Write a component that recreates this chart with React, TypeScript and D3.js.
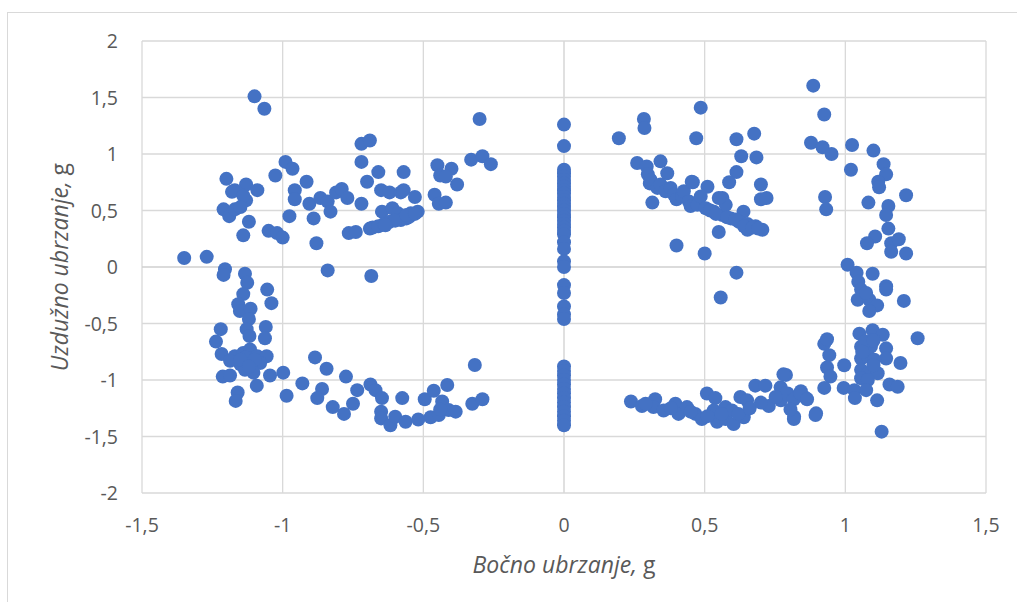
import * as React from "react";
import * as d3 from "d3";

// bočno (x) / uzdužno (y) ubrzanje, g
const upperLeft = [
  [-1.1, 1.51], [-1.065, 1.4], [-1.2, 0.78], [-1.13, 0.73], [-1.17, 0.68], [-1.18, 0.665],
  [-1.09, 0.68], [-1.13, 0.59], [-1.14, 0.63], [-1.21, 0.51], [-1.19, 0.45], [-1.17, 0.51],
  [-1.15, 0.53], [-1.12, 0.4], [-1.14, 0.28], [-1.05, 0.32], [-1.02, 0.3], [-1.0, 0.26],
  [-0.99, 0.93], [-0.965, 0.87], [-1.026, 0.81], [-0.976, 0.45], [-0.957, 0.68], [-0.957, 0.6],
  [-0.915, 0.755], [-0.905, 0.56], [-0.89, 0.43], [-0.866, 0.61], [-0.84, 0.58], [-0.83, 0.49],
  [-0.81, 0.66], [-0.79, 0.69], [-0.77, 0.61], [-0.88, 0.21], [-0.765, 0.3], [-0.74, 0.31],
  [-0.72, 1.09], [-0.69, 1.12], [-0.72, 0.93], [-0.7, 0.755], [-0.72, 0.56], [-0.66, 0.84],
  [-0.65, 0.68], [-0.62, 0.66], [-0.58, 0.66], [-0.57, 0.84], [-0.57, 0.68], [-0.53, 0.62],
  [-0.52, 0.49], [-0.69, 0.34], [-0.68, 0.35], [-0.66, 0.36], [-0.647, 0.49], [-0.62, 0.4],
  [-0.61, 0.52], [-0.59, 0.475], [-0.58, 0.415], [-0.56, 0.43], [-0.55, 0.445], [-0.545, 0.475],
  [-0.6, 0.41], [-0.64, 0.38], [-0.635, 0.37], [-0.56, 0.46], [-0.53, 0.47], [-0.45, 0.9],
  [-0.4, 0.87], [-0.44, 0.81], [-0.42, 0.8], [-0.38, 0.73], [-0.46, 0.64], [-0.445, 0.56],
  [-0.42, 0.57], [-0.33, 0.95], [-0.29, 0.98], [-0.26, 0.91], [-0.3, 1.31],
];

const lowerLeft = [
  [-1.35, 0.08], [-1.27, 0.09], [-1.205, -0.02], [-1.21, -0.07], [-1.134, -0.06], [-1.126, -0.14],
  [-1.14, -0.24], [-1.055, -0.2], [-1.04, -0.32], [-1.158, -0.33], [-1.152, -0.39], [-1.114, -0.37],
  [-1.12, -0.46], [-1.22, -0.55], [-1.128, -0.55], [-1.118, -0.61], [-1.06, -0.53], [-1.063, -0.63],
  [-1.237, -0.66], [-1.217, -0.77], [-1.17, -0.79], [-1.14, -0.76], [-1.116, -0.73], [-1.09, -0.79],
  [-1.057, -0.79], [-1.15, -0.86], [-1.12, -0.85], [-1.08, -0.85], [-1.134, -0.91], [-1.104, -0.935],
  [-1.187, -0.83], [-1.13, -0.8], [-1.1, -0.82], [-1.15, -0.82], [-1.12, -0.88], [-1.213, -0.97],
  [-1.187, -0.96], [-1.045, -0.96], [-0.998, -0.935], [-1.092, -1.05], [-1.16, -1.11], [-1.167, -1.185],
  [-0.986, -1.14], [-0.93, -1.03], [-0.885, -0.8], [-0.844, -0.9], [-0.775, -0.97], [-0.86, -1.08],
  [-0.877, -1.16], [-0.822, -1.24], [-0.782, -1.3], [-0.735, -1.09], [-0.75, -1.21], [-0.688, -1.04],
  [-0.67, -1.09], [-0.647, -1.16], [-0.65, -1.28], [-0.65, -1.34], [-0.617, -1.4], [-0.6, -1.325],
  [-0.563, -1.37], [-0.575, -1.16], [-0.518, -1.35], [-0.495, -1.17], [-0.463, -1.095], [-0.474, -1.33],
  [-0.445, -1.31], [-0.415, -1.044], [-0.433, -1.19], [-0.41, -1.265], [-0.385, -1.28], [-0.44, -1.26],
  [-0.317, -0.867], [-0.326, -1.21], [-0.29, -1.17], [-0.84, -0.03], [-0.685, -0.08],
];

const centerY = [
  1.26, 1.07, 0.86, 0.83, 0.8, 0.77, 0.74, 0.71, 0.68, 0.65, 0.62, 0.59, 0.56, 0.53, 0.5, 0.47,
  0.44, 0.41, 0.38, 0.35, 0.32, 0.29, 0.22, 0.16, 0.05, 0.0, -0.16, -0.23, -0.35, -0.42, -0.46,
  -0.88, -0.92, -0.96, -1.0, -1.04, -1.08, -1.12, -1.16, -1.2, -1.24, -1.28, -1.32, -1.36, -1.4,
];

const upperRight = [
  [0.486, 1.41], [0.284, 1.31], [0.286, 1.23], [0.195, 1.14], [0.47, 1.14], [0.613, 1.13],
  [0.676, 1.18], [0.63, 0.98], [0.684, 0.97], [0.26, 0.92], [0.294, 0.89], [0.343, 0.935],
  [0.367, 0.83], [0.298, 0.82], [0.305, 0.74], [0.314, 0.57], [0.458, 0.75], [0.51, 0.71],
  [0.613, 0.84], [0.587, 0.75], [0.7, 0.73], [0.7, 0.6], [0.72, 0.61], [0.638, 0.49],
  [0.55, 0.31], [0.4, 0.19], [0.5, 0.12], [0.613, -0.05], [0.557, -0.27], [0.308, 0.77],
  [0.332, 0.7], [0.343, 0.73], [0.361, 0.67], [0.379, 0.7], [0.391, 0.64], [0.4, 0.6],
  [0.42, 0.625], [0.426, 0.67], [0.444, 0.58], [0.45, 0.54], [0.474, 0.55], [0.486, 0.625],
  [0.504, 0.52], [0.533, 0.49], [0.563, 0.46], [0.563, 0.61], [0.575, 0.55], [0.593, 0.43],
  [0.622, 0.4], [0.652, 0.38], [0.652, 0.33], [0.681, 0.36], [0.705, 0.33], [0.454, 0.755],
  [0.55, 0.61], [0.52, 0.5], [0.54, 0.47], [0.58, 0.44], [0.61, 0.42], [0.64, 0.36],
  [0.67, 0.35], [0.69, 0.34],
];

const farRight = [
  [0.886, 1.605], [0.925, 1.35], [0.878, 1.1], [0.919, 1.06], [0.951, 1.0], [1.024, 1.08],
  [1.1, 1.03], [1.02, 0.86], [1.136, 0.91], [1.145, 0.82], [1.117, 0.755], [1.12, 0.705],
  [0.928, 0.62], [0.932, 0.51], [1.082, 0.57], [1.216, 0.635], [1.153, 0.54], [1.145, 0.46],
  [1.153, 0.34], [1.106, 0.27], [1.077, 0.21], [1.163, 0.21], [1.19, 0.245], [1.163, 0.135],
  [1.216, 0.12], [1.008, 0.02], [1.04, -0.05], [1.046, -0.13], [1.056, -0.2], [1.097, -0.06],
  [1.145, -0.17], [1.145, -0.2], [1.044, -0.29], [1.085, -0.29], [1.113, -0.34], [1.085, -0.39],
  [1.208, -0.3], [1.074, -0.23],
];

const lowerRight = [
  [1.05, -0.59], [1.097, -0.56], [1.133, -0.6], [1.257, -0.63], [0.925, -0.68], [0.935, -0.64],
  [0.943, -0.78], [1.056, -0.705], [1.091, -0.705], [1.145, -0.72], [1.145, -0.81], [1.056, -0.81],
  [1.08, -0.79], [1.103, -0.82], [1.196, -0.85], [0.996, -0.87], [0.935, -0.89], [0.947, -0.97],
  [1.056, -0.91], [1.08, -0.94], [1.115, -0.94], [1.056, -0.985], [1.08, -1.0], [0.925, -1.07],
  [0.994, -1.07], [1.032, -1.09], [1.074, -1.09], [1.034, -1.16], [1.113, -1.18], [1.157, -1.04],
  [1.186, -1.06], [1.129, -1.457], [1.07, -0.66], [1.1, -0.65], [1.06, -0.75], [1.1, -0.87],
  [0.789, -0.955], [0.795, -1.12], [0.842, -1.1], [0.86, -1.16], [0.818, -1.325], [0.896, -1.295],
  [0.771, -1.18], [0.238, -1.19], [0.277, -1.23], [0.324, -1.17], [0.318, -1.24], [0.354, -1.27],
  [0.396, -1.21], [0.407, -1.3], [0.437, -1.24], [0.467, -1.3], [0.49, -1.345], [0.508, -1.12],
  [0.538, -1.16], [0.532, -1.27], [0.544, -1.37], [0.574, -1.24], [0.574, -1.345], [0.603, -1.39],
  [0.597, -1.27], [0.627, -1.15], [0.639, -1.33], [0.651, -1.18], [0.68, -1.05], [0.716, -1.05],
  [0.78, -0.95], [0.77, -1.065], [0.787, -1.12], [0.728, -1.23], [0.752, -1.15], [0.817, -1.17],
  [0.84, -1.12], [0.864, -1.17], [0.817, -1.345], [0.894, -1.31], [0.805, -1.26], [0.29, -1.21],
  [0.38, -1.25], [0.45, -1.28], [0.51, -1.32], [0.56, -1.3], [0.62, -1.3], [0.66, -1.25],
  [0.7, -1.2],
];

const xTicks = [-1.5, -1, -0.5, 0, 0.5, 1, 1.5];
const yTicks = [-2, -1.5, -1, -0.5, 0, 0.5, 1, 1.5, 2];

const fmt = (v: number) => String(v).replace(".", ",");

const ScatterChart = () => {
  const svgRef = React.useRef<SVGSVGElement>(null);

  React.useEffect(() => {
    const width = 1017;
    const height = 602;
    const font = "'Open Sans', 'Noto Sans', sans-serif";

    const svg = d3.select(svgRef.current).attr("width", width).attr("height", height);
    svg.selectAll("*").remove();

    // chart frame
    svg
      .append("rect")
      .attr("x", 7.5)
      .attr("y", 12.5)
      .attr("width", 1030)
      .attr("height", 620)
      .attr("fill", "#fff")
      .attr("stroke", "#d9d9d9");

    const x = d3.scaleLinear().domain([-1.5, 1.5]).range([142, 986]);
    const y = d3.scaleLinear().domain([-2, 2]).range([493, 41]);

    const grid = svg.append("g").attr("stroke-width", 1.3);
    grid
      .selectAll("line.v")
      .data(xTicks)
      .enter()
      .append("line")
      .attr("x1", (d) => x(d))
      .attr("x2", (d) => x(d))
      .attr("y1", y(2))
      .attr("y2", y(-2))
      .attr("stroke", (d) => (d === 0 ? "#cfcfcf" : "#d9d9d9"));
    grid
      .selectAll("line.h")
      .data(yTicks)
      .enter()
      .append("line")
      .attr("x1", x(-1.5))
      .attr("x2", x(1.5))
      .attr("y1", (d) => y(d))
      .attr("y2", (d) => y(d))
      .attr("stroke", (d) => (d === 0 ? "#cfcfcf" : "#d9d9d9"));

    svg
      .append("g")
      .selectAll("text")
      .data(xTicks)
      .enter()
      .append("text")
      .attr("x", (d) => x(d))
      .attr("y", 532)
      .attr("text-anchor", "middle")
      .attr("font-family", font)
      .attr("font-size", "19.5px")
      .attr("fill", "#595959")
      .text((d) => fmt(d));

    svg
      .append("g")
      .selectAll("text")
      .data(yTicks)
      .enter()
      .append("text")
      .attr("x", 118)
      .attr("y", (d) => y(d) + 7)
      .attr("text-anchor", "end")
      .attr("font-family", font)
      .attr("font-size", "19.5px")
      .attr("fill", "#595959")
      .text((d) => fmt(d));

    // axis titles
    const xt = svg
      .append("text")
      .attr("x", 564)
      .attr("y", 573)
      .attr("text-anchor", "middle")
      .attr("font-family", font)
      .attr("font-size", "23px")
      .attr("fill", "#595959");
    xt.append("tspan").attr("font-style", "italic").text("Bočno ubrzanje, ");
    xt.append("tspan").text("g");

    const yt = svg
      .append("text")
      .attr("transform", `translate(68 ${y(0)}) rotate(-90)`)
      .attr("text-anchor", "middle")
      .attr("font-family", font)
      .attr("font-size", "23px")
      .attr("fill", "#595959");
    yt.append("tspan").attr("font-style", "italic").text("Uzdužno ubrzanje, ");
    yt.append("tspan").text("g");

    const points = [
      ...upperLeft,
      ...lowerLeft,
      ...centerY.map((v) => [0, v]),
      ...upperRight,
      ...farRight,
      ...lowerRight,
    ];

    svg
      .append("g")
      .selectAll("circle")
      .data(points)
      .enter()
      .append("circle")
      .attr("cx", (d) => x(d[0]))
      .attr("cy", (d) => y(d[1]))
      .attr("r", 7)
      .attr("fill", "#4472c4");
  }, []);

  return <svg ref={svgRef} style={{ position: "absolute", left: 0, top: 0 }} />;
};

export default function App() {
  return <ScatterChart />;
}
